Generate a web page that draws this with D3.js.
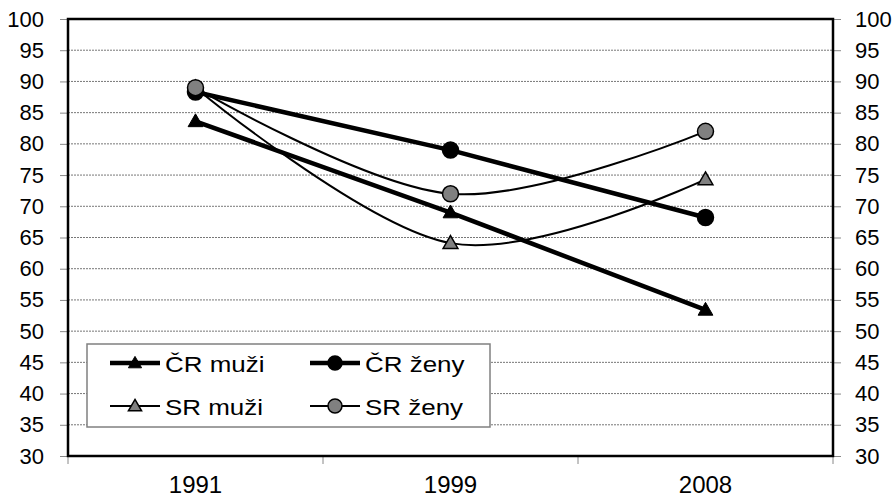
<!DOCTYPE html>
<html>
<head>
<meta charset="utf-8">
<script src="https://cdn.jsdelivr.net/npm/d3@7"></script>
<style>
  body { margin: 0; background: #fff; }
  text { font-family: "Liberation Sans", Arial, sans-serif; fill: #000; }
</style>
</head>
<body>
<svg id="chart"></svg>
<script>
const years = ['1991', '1999', '2008'];
const crMuzi = [83.6, 69.0, 53.4];
const crZeny = [88.3, 79.0, 68.2];
const srMuzi = [89.0, 64.1, 74.3];
const srZeny = [89.0, 72.0, 82.0];
const yTicks = d3.range(30, 101, 5);

const series = [
  { name: 'ČR muži', vals: crMuzi, shape: 'triangle', fill: '#000', width: 4.5, smooth: false },
  { name: 'ČR ženy', vals: crZeny, shape: 'circle', fill: '#000', width: 4.5, smooth: false },
  { name: 'SR muži', vals: srMuzi, shape: 'triangle', fill: '#808080', width: 2, smooth: true },
  { name: 'SR ženy', vals: srZeny, shape: 'circle', fill: '#808080', width: 2, smooth: true }
];

const W = 895, H = 497;
const margin = { top: 19, right: 62, bottom: 41, left: 68 };
const width = W - margin.left - margin.right;
const height = H - margin.top - margin.bottom;

const x = d3.scaleBand().domain(years).range([0, width]);
const y = d3.scaleLinear().domain([30, 100]).range([height, 0]);

const svg = d3.select('#chart').attr('width', W).attr('height', H);
const g = svg.append('g').attr('transform', `translate(${margin.left},${margin.top})`);

// grid
g.append('g').selectAll('line')
  .data(yTicks.filter(d => d > 30 && d < 100))
  .enter().append('line')
    .attr('x1', 0).attr('x2', width)
    .attr('y1', d => y(d)).attr('y2', d => y(d))
    .attr('stroke', '#777').attr('stroke-width', 1)
    .attr('stroke-dasharray', '2,1');

// axes
const yLeft = g.append('g')
  .call(d3.axisLeft(y).tickValues(yTicks).tickSize(8).tickPadding(16));
const yRight = g.append('g').attr('transform', `translate(${width},0)`)
  .call(d3.axisRight(y).tickValues(yTicks).tickSize(8).tickPadding(14));
[yLeft, yRight].forEach(a => {
  a.select('.domain').remove();
  a.selectAll('.tick line').attr('stroke', '#888');
  a.selectAll('.tick text').style('font-size', '22px').attr('font-family', '"Liberation Sans", Arial, sans-serif');
});

const xAxis = g.append('g').attr('transform', `translate(0,${height})`)
  .call(d3.axisBottom(x).tickSize(0).tickPadding(20));
xAxis.select('.domain').remove();
xAxis.selectAll('.tick text').style('font-size', '24px').attr('font-family', '"Liberation Sans", Arial, sans-serif');
// category separator ticks
g.append('g').selectAll('line')
  .data(years.concat(['end']))
  .enter().append('line')
    .attr('x1', (d, i) => i * x.bandwidth()).attr('x2', (d, i) => i * x.bandwidth())
    .attr('y1', height).attr('y2', height + 8)
    .attr('stroke', '#888');

// plot frame
g.append('rect')
  .attr('width', width).attr('height', height)
  .attr('fill', 'none').attr('stroke', '#000').attr('stroke-width', 2.5);

const cx = d => x(d) + x.bandwidth() / 2;
const triangle = d3.symbol().type(d3.symbolTriangle);

function marker(sel, s, big) {
  if (s.shape === 'circle') {
    sel.append('circle').attr('r', big ? 8 : 7)
      .attr('fill', s.fill).attr('stroke', '#000').attr('stroke-width', 1.5);
  } else {
    sel.append('path').attr('d', triangle.size(big ? 95 : 75)())
      .attr('transform', 'translate(0,1)')
      .attr('fill', s.fill).attr('stroke', '#000').attr('stroke-width', s.fill === '#000' ? 1 : 1.5);
  }
}

// lines
series.slice().reverse().forEach(s => {
  const line = d3.line()
    .x((d, i) => cx(years[i]))
    .y(d => y(d))
    .curve(s.smooth ? d3.curveCardinal.tension(0) : d3.curveLinear);
  g.append('path').datum(s.vals)
    .attr('d', line)
    .attr('fill', 'none').attr('stroke', '#000').attr('stroke-width', s.width);
});

// markers
series.forEach(s => {
  g.append('g').selectAll('g')
    .data(s.vals)
    .enter().append('g')
      .attr('transform', (d, i) => `translate(${cx(years[i])},${y(d)})`)
      .each(function () { marker(d3.select(this), s, true); });
});

// legend
const legend = svg.append('g').attr('transform', 'translate(87,344)');
legend.append('rect').attr('width', 403).attr('height', 83)
  .attr('fill', '#fff').attr('stroke', '#808080').attr('stroke-width', 1.5);
const legPos = [[23, 19], [223, 19], [23, 62], [223, 62]];
series.forEach((s, i) => {
  const item = legend.append('g').attr('transform', `translate(${legPos[i][0]},${legPos[i][1]})`);
  item.append('line').attr('x1', 0).attr('x2', 50).attr('y1', 0).attr('y2', 0)
    .attr('stroke', '#000').attr('stroke-width', s.width);
  const m = item.append('g').attr('transform', 'translate(25,0)');
  marker(m, s, false);
  item.append('text').attr('transform', 'translate(55,9) scale(1.18,1)')
    .style('font-size', '22px').text(s.name);
});
</script>
</body>
</html>
